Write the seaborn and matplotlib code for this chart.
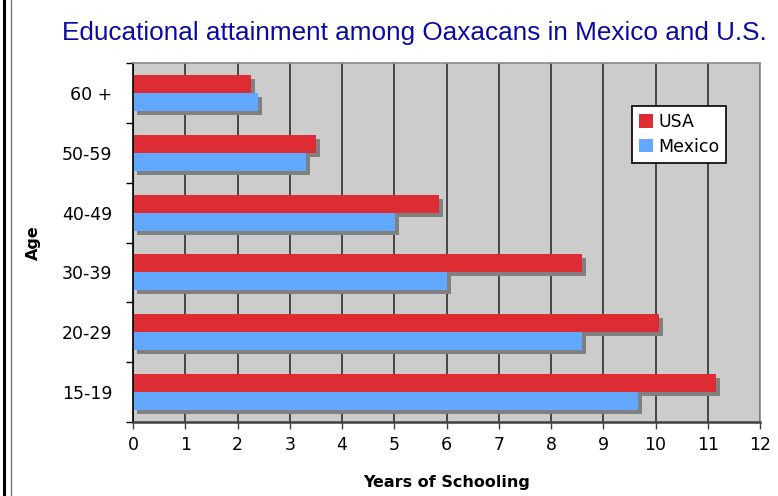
import numpy as np
import pandas as pd
import matplotlib.pyplot as plt
import matplotlib as mpl
import matplotlib.patheffects as pe
from matplotlib.lines import Line2D
import seaborn as sns

ages = ['60 +', '50-59', '40-49', '30-39', '20-29', '15-19']
usa = [2.25, 3.5, 5.85, 8.6, 10.07, 11.15]
mexico = [2.4, 3.31, 5.02, 6.0, 8.6, 9.67]

df = pd.DataFrame({
    'age': ages * 2,
    'years': usa + mexico,
    'place': ['USA'] * len(ages) + ['Mexico'] * len(ages),
})

sns.set_style('white')
plt.rcParams['font.family'] = ['DejaVu Sans']
plt.rcParams['text.color'] = 'black'
plt.rcParams['axes.labelcolor'] = 'black'
plt.rcParams['xtick.labelcolor'] = 'black'
plt.rcParams['ytick.labelcolor'] = 'black'

fig = plt.figure(figsize=(7.78, 4.96), dpi=100)
ax = fig.add_axes([133 / 778, 1 - 422 / 496, (760 - 133) / 778, (422 - 63) / 496])
ax.set_facecolor('#cccccc')

sns.barplot(data=df, x='years', y='age', hue='place', order=ages,
            hue_order=['USA', 'Mexico'], palette={'USA': '#dd2c33', 'Mexico': '#62a8ff'},
            width=0.6, gap=0, saturation=1, orient='h', ax=ax, legend=True)

# drop shadow on the bars
shadow = [pe.SimplePatchShadow(offset=(2.9, -2.9), shadow_rgbFace='#808080', alpha=1), pe.Normal()]
for p in ax.patches:
    p.set_path_effects(shadow)
    p.set_edgecolor('none')

ax.set_xlim(0, 12)
ax.set_ylim(5.5, -0.5)
ax.set_xticks(range(0, 13))
ax.set_axisbelow(True)
ax.grid(axis='x', color='#222222', linewidth=1.1)
ax.grid(axis='y', visible=False)

ax.set_yticks(np.arange(-0.5, 6, 1), minor=True)
ax.tick_params(axis='y', which='major', length=0, labelsize=12.5, pad=15)
ax.tick_params(axis='y', which='minor', length=5, width=1, color='black', left=True)
ax.tick_params(axis='x', which='major', length=5, width=1, color='#404040', bottom=True,
               labelsize=12.5, pad=5)

for s in ['top', 'right']:
    ax.spines[s].set_color('#888888')
    ax.spines[s].set_linewidth(1.2)
ax.spines['left'].set_color('black')
ax.spines['left'].set_linewidth(1.2)
ax.spines['bottom'].set_color('#404040')
ax.spines['bottom'].set_linewidth(1.8)

ax.set_xlabel('Years of Schooling', fontsize=11.5, fontweight='bold', labelpad=15)
ax.set_ylabel('Age', fontsize=11.5, fontweight='bold', labelpad=15)

handles, labels = ax.get_legend_handles_labels()
leg = ax.legend(handles, labels, loc='upper left', bbox_to_anchor=(632 / 778, 1 - 106 / 496),
                bbox_transform=fig.transFigure, fontsize=12.5, frameon=True, fancybox=False,
                edgecolor='black', facecolor='white', framealpha=1, handlelength=0.8,
                handleheight=0.8, handletextpad=0.3, borderpad=0.4, labelspacing=0.4,
                borderaxespad=0)
leg.get_frame().set_linewidth(1.2)
for h in leg.legend_handles:
    h.set_path_effects([])

fig.text(414 / 778, 1 - 33 / 496, 'Educational attainment among Oaxacans in Mexico and U.S.',
         ha='center', va='center', fontsize=18.8, color='#0a0aa0', family='Liberation Sans')

# left frame lines of the original image
fig.add_artist(Line2D([3.5 / 778, 3.5 / 778], [0, 1], color='black', linewidth=2.2))
fig.add_artist(Line2D([10.5 / 778, 10.5 / 778], [0, 1], color='#777777', linewidth=1))

plt.savefig('out.png', dpi=100)
